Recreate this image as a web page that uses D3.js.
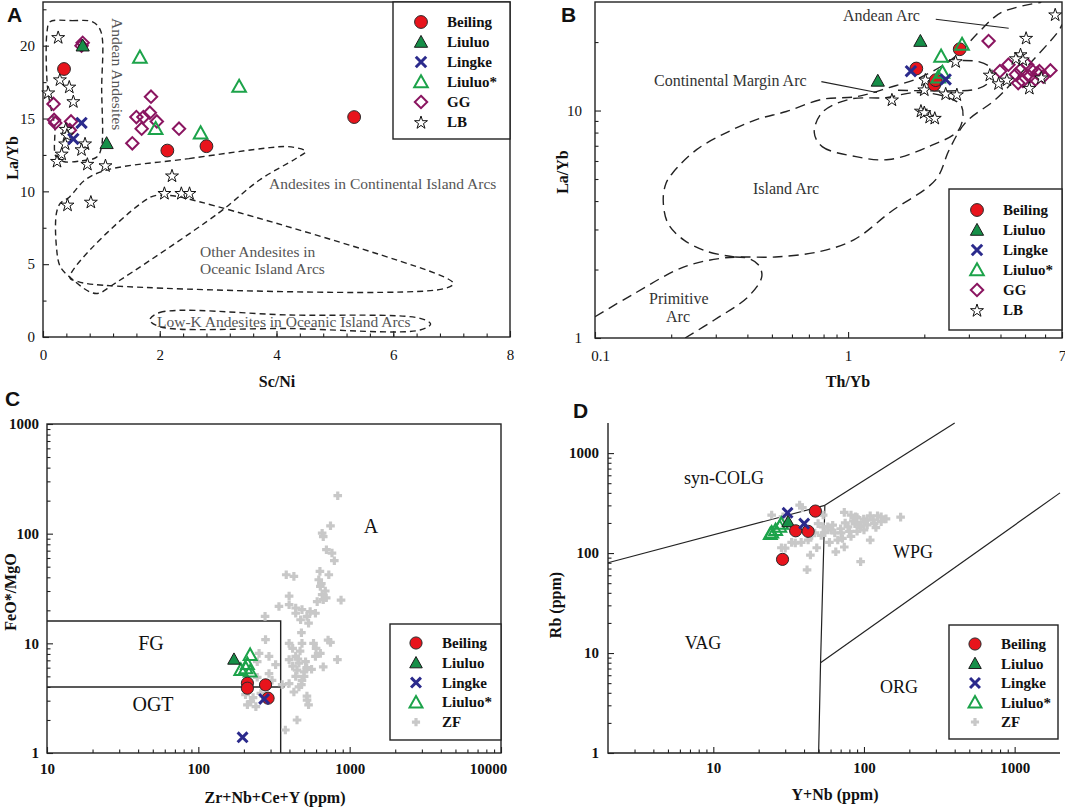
<!DOCTYPE html>
<html><head><meta charset="utf-8">
<script src="https://cdn.jsdelivr.net/npm/d3@7"></script>
<style>
body{margin:0;background:#fff;}
</style></head><body>
<svg id="chart" width="1065" height="808"></svg>
<script>
// ---------------- DATA ----------------
const legendAB = ["Beiling","Liuluo","Lingke","Liuluo*","GG","LB"];
const legendCD = ["Beiling","Liuluo","Lingke","Liuluo*","ZF"];

// Panel A : Sc/Ni vs La/Yb
const aXTicks = [0,2,4,6,8];
const aYTicks = [0,5,10,15,20];
const aBeiling = [[0.36,18.4],[2.13,12.8],[2.80,13.1],[5.33,15.1]];
const aLiuluo  = [[0.68,20.0],[1.09,13.3]];
const aLingke  = [[0.66,14.7],[0.52,13.6]];
const aLiuluoS = [[1.66,19.2],[3.36,17.2],[1.93,14.3],[2.70,14.0]];
const aGG = [[0.68,20.2],[0.66,20.0],[0.18,16.0],[0.19,14.9],[0.21,14.7],[0.48,14.8],[0.46,14.2],[1.60,15.1],[1.69,14.3],[1.72,15.1],[1.85,16.5],[1.83,15.4],[1.95,14.8],[1.53,13.3],[2.33,14.3]];
const aLB = [[0.26,20.6],[0.09,16.8],[0.29,17.7],[0.45,17.2],[0.52,16.2],[0.39,14.3],[0.41,13.9],[0.38,13.3],[0.72,13.3],[0.66,12.9],[0.32,12.6],[0.24,12.1],[0.76,11.9],[1.07,11.8],[2.21,11.1],[2.08,9.9],[2.37,9.9],[2.51,9.9],[0.42,9.1],[0.82,9.3]];
const aFieldAndean = [[0.12,21.64],[0.5,21.72],[0.85,21.64],[0.99,21.0],[1.005,17.0],[1.0,13.0],[0.92,12.35],[0.63,12.08],[0.35,12.05],[0.22,12.4],[0.2,14.5],[0.12,16.0],[0.07,17.5],[0.07,21.0]];
const aFieldContinental = [[1.09,11.46],[2.5,12.25],[3.89,13.0],[4.2,13.07],[4.5,12.75],[4.35,12.3],[3.71,10.78],[3.0,8.49],[1.19,3.57],[0.95,3.0],[0.8,3.1],[0.52,3.91],[0.3,4.8],[0.23,6.2],[0.23,8.5],[0.3,9.2],[0.45,9.6],[0.72,10.78]];
const aFieldOceanic = [[0.46,4.1],[1.84,9.6],[2.1,9.72],[2.36,9.6],[6.92,4.03],[7.03,3.65],[6.81,3.27],[1.25,3.5],[0.6,3.8]];
const aFieldLowK = [[1.83,1.17],[2.0,1.68],[4.23,1.51],[6.46,1.28],[6.64,0.89],[6.46,0.48],[4.23,0.58],[2.0,0.71]];

// Panel B : Th/Yb vs La/Yb
const bXTicks = [0.1,1,7];
const bXLabels = ["0.1","1","7"];
const bYTicks = [1,10];
const bBeiling = [[1.86,15.3],[2.76,18.6],[2.19,13.0],[2.22,13.6]];
const bLiuluo  = [[1.93,20.2],[1.31,13.5]];
const bLingke  = [[1.77,14.9],[2.43,13.7]];
const bLiuluoS = [[2.82,19.5],[2.33,17.3],[2.36,14.7],[2.27,14.0]];
const bGG = [[3.59,20.2],[3.98,14.9],[4.3,15.9],[4.6,14.4],[4.7,13.2],[4.8,15.1],[5.1,15.9],[5.2,14.1],[5.3,15.1],[5.5,13.7],[5.7,14.9],[5.9,14.1],[6.3,15.0],[4.9,13.5],[5.6,14.6]];
const bLB = [[6.58,26.5],[5.05,20.9],[4.8,17.7],[4.9,16.8],[4.6,17.0],[3.63,14.4],[3.93,13.2],[4.24,13.7],[2.66,16.5],[2.02,13.7],[2.0,12.4],[2.43,11.9],[2.69,11.8],[1.49,11.2],[1.94,10.0],[2.0,9.85],[2.1,9.4],[2.2,9.3],[5.2,12.6],[5.8,14.0]];
const bCurveOuter = [[0.1,1.24],[0.1405,1.55],[0.2236,2.05],[0.314,2.24],[0.378,2.27],[0.516,2.27],[0.772,2.40],[1.053,2.70],[1.48,3.60],[2.22,4.97],[2.51,6.73],[2.91,8.85],[3.83,11.2],[4.84,14.7],[6.77,22.3],[7.0,23.9]];
const bCurveUpper = [[0.356,2.27],[0.278,2.40],[0.224,2.70],[0.194,3.2],[0.186,4.05],[0.191,4.8],[0.203,5.33],[0.252,6.73],[0.331,8.0],[0.434,9.12],[0.570,9.9],[0.790,11.2],[1.075,11.5],[1.45,12.6],[1.96,14.1],[2.66,17.3],[3.28,22.1],[4.04,27.0],[5.80,29.9]];
const bCurvePrimitive = [[0.227,1.0],[0.296,1.2],[0.403,1.52],[0.456,1.86],[0.442,2.10],[0.403,2.24],[0.356,2.27]];
const bFieldMargin = [[0.735,8.0],[0.790,6.94],[1.075,6.27],[1.45,6.09],[2.08,6.94],[2.74,8.25],[2.81,10.4],[2.43,11.5],[1.85,12.0],[1.41,11.4],[1.01,11.2],[0.79,9.8]];
const bCurveAndean = [[2.45,16.5],[3.28,16.4],[3.69,15.2],[3.59,13.3],[3.19,12.4],[2.50,12.2],[1.49,12.3]];
const bPointerAndean = [[2.22,25.2],[4.31,23.0]];
const bPointerMargin = [[0.784,13.4],[1.30,12.0]];

// Panel C : Zr+Nb+Ce+Y vs FeO*/MgO
const cXTicks = [10,100,1000,10000];
const cYTicks = [1,10,100,1000];
const cBeiling = [[211,4.33],[211,3.9],[278,4.18],[289,3.16]];
const cLiuluo  = [[172,7.17]];
const cLingke  = [[272,3.11],[196,1.39]];
const cLiuluoS = [[220,7.85],[191,5.73],[206,5.94],[220,5.53],[211,6.5]];
const cZF = [[834,222],[747,118],[658,101],[669,94],[702,71.4],[764,66.6],[792,56.7],[381,42.2],[428,40.8],[636,45.3],[728,42.2],[625,38],[640,33],[690,30],[658,27.8],[669,25],[610,24],[398,27],[877,24.8],[341,21.7],[398,22.5],[440,21],[440,18.8],[484,20.3],[474,16.4],[522,17.6],[548,19.5],[594,18.8],[535,15.3],[276,17.6],[278,10.8],[398,10],[484,10],[577,10],[747,10.2],[293,7.6],[324,6.4],[398,7.1],[440,7.6],[462,6.6],[511,6.8],[594,7.6],[640,8.1],[669,6.1],[830,7.1],[449,5.7],[499,5.5],[440,5.0],[484,4.6],[398,4.3],[462,4.0],[428,3.6],[522,3.3],[535,2.75],[358,4.2],[293,5.3],[307,4.6],[222,2.94],[240,2.65],[211,2.75],[259,3.5],[449,2.0],[376,1.62],[252,8.1],[245,6.8],[230,3.2],[205,3.4],[245,4.9],[720,10.7],[420,9],[470,8.5],[500,5],[520,6],[420,6.2],[455,7.2],[480,12.5],[600,9],[560,5.8],[700,26],[650,35],[480,4.2],[523,3.04]];

// Panel D : Y+Nb vs Rb
const dXTicks = [10,100,1000];
const dYTicks = [1,10,100,1000];
const dBeiling = [[47.6,263],[35.2,167],[42.6,165],[28.8,86.5]];
const dLiuluo  = [[31.4,206]];
const dLingke  = [[31.1,253],[40.1,197]];
const dLiuluoS = [[24.4,161],[25.9,170],[27.6,183],[28.3,197],[23.9,155]];
const dZF = [[37.4,302],[24.4,240],[53.6,240],[49.6,197],[53.6,183],[57.5,183],[60.4,170],[47.1,159],[42.6,135],[33.1,128],[38.3,128],[28.3,113],[48.6,113],[44.1,95.5],[41.9,68],[74,255],[82,240],[90,226],[99.6,219],[110,236],[123,236],[117,197],[105,191],[87,197],[78.4,183],[70.5,159],[67,135],[65,103],[95,183],[90,165],[82,147],[110,135],[95,82],[175,229],[130,206],[74,115],[64,159],[59,128],[30,112],[35,126],[39,285],[100,205],[85,210],[92,190],[105,215],[115,215],[120,180],[75,200],[70,175],[80,165],[62,190],[100,170],[130,230],[140,220],[88,230],[72,140],[45,150],[55,160],[52,150],[29,230],[33,175]];
const dLineVAGCOLG = [[2,80],[55,300]];
const dLineCOLGWPG = [[55,300],[400,2000]];
const dLineVertical = [[55,300],[51.5,8],[50,1]];
const dLineWPGORG = [[51.5,8],[2000,400]];

// ---------------- DRAWING ----------------
const FONT = "'Liberation Serif','Times New Roman',serif";
const svg = d3.select("#chart");
const INK = "#222";

function marker(g, type, x, y, k=1) {
  if (type==="Beiling") {
    g.append("circle").attr("cx",x).attr("cy",y).attr("r",6.4*k)
      .attr("fill","#e8141c").attr("stroke","#2a2a2a").attr("stroke-width",1);
  } else if (type==="Liuluo") {
    const s=6.6*k;
    g.append("path").attr("d",`M${x},${y-s}L${x+s},${y+s*0.8}L${x-s},${y+s*0.8}Z`)
      .attr("fill","#168f48").attr("stroke","#1a1a1a").attr("stroke-width",1);
  } else if (type==="Lingke") {
    const s=5.2*k;
    g.append("path").attr("d",`M${x-s},${y-s}L${x+s},${y+s}M${x+s},${y-s}L${x-s},${y+s}`)
      .attr("stroke","#2b2a8c").attr("stroke-width",3).attr("fill","none");
  } else if (type==="Liuluo*") {
    const s=6.8*k;
    g.append("path").attr("d",`M${x},${y-s}L${x+s},${y+s*0.78}L${x-s},${y+s*0.78}Z`)
      .attr("fill","none").attr("stroke","#1ca34a").attr("stroke-width",2);
  } else if (type==="GG") {
    const s=6.2*k;
    g.append("path").attr("d",`M${x},${y-s}L${x+s},${y}L${x},${y+s}L${x-s},${y}Z`)
      .attr("fill","none").attr("stroke","#8a1560").attr("stroke-width",2);
  } else if (type==="LB") {
    g.append("path").attr("d",d3.symbol(d3.symbolStar, 52*k*k)())
      .attr("transform",`translate(${x},${y+0.8})`)
      .attr("fill","#fff").attr("stroke","#111").attr("stroke-width",1);
  } else if (type==="ZF") {
    const s=4.3*k;
    g.append("path").attr("d",`M${x-s},${y}L${x+s},${y}M${x},${y-s}L${x},${y+s}`)
      .attr("stroke","#c8c8c8").attr("stroke-width",3.2).attr("fill","none");
  }
}

function plotSeries(g, type, data, xs, ys, k) {
  data.forEach(d => marker(g, type, xs(d[0]), ys(d[1]), k));
}

function minorLog(domain) {
  const out=[]; const [a,b]=domain;
  for (let e=Math.floor(Math.log10(a)); e<=Math.ceil(Math.log10(b)); e++)
    for (let d=2; d<=9; d++) { const v=d*Math.pow(10,e); if (v>a*1.0001 && v<b*0.9999) out.push(v); }
  return out;
}

function styleAxis(g, fs, fw) {
  g.select(".domain").remove();
  g.attr("font-family",FONT).attr("font-size",fs).attr("font-weight",fw);
  g.selectAll("line").attr("stroke",INK).attr("stroke-width",1.1);
  g.selectAll("text").attr("fill","#111");
}

function axisPair(xs, ys, xPos, yPos, xMajor, yMajor, xMinor, yMinor, xFmt, yFmt, opt) {
  const gx = svg.append("g").attr("transform",`translate(0,${xPos})`)
    .call(d3.axisBottom(xs).tickValues(xMajor).tickSizeInner(-6).tickSizeOuter(0).tickPadding(opt.xpad).tickFormat(xFmt));
  styleAxis(gx, opt.fs, opt.fw);
  const gxm = svg.append("g").attr("transform",`translate(0,${xPos})`)
    .call(d3.axisBottom(xs).tickValues(xMinor).tickSizeInner(-3.5).tickSizeOuter(0).tickFormat(""));
  styleAxis(gxm, opt.fs, opt.fw);
  const gy = svg.append("g").attr("transform",`translate(${yPos},0)`)
    .call(d3.axisLeft(ys).tickValues(yMajor).tickSizeInner(-6).tickSizeOuter(0).tickPadding(opt.ypad).tickFormat(yFmt));
  styleAxis(gy, opt.fs, opt.fw);
  const gym = svg.append("g").attr("transform",`translate(${yPos},0)`)
    .call(d3.axisLeft(ys).tickValues(yMinor).tickSizeInner(-3.5).tickSizeOuter(0).tickFormat(""));
  styleAxis(gym, opt.fs, opt.fw);
  return {gx, gy};
}

function frame(xs, ys) {
  const [x0,x1]=xs.range(), [y0,y1]=ys.range();
  svg.append("rect").attr("x",x0).attr("y",y1).attr("width",x1-x0).attr("height",y0-y1)
    .attr("fill","none").attr("stroke",INK).attr("stroke-width",1.4);
}

function legend(items, box, symX, textX, y0, step, k) {
  svg.append("rect").attr("x",box[0]).attr("y",box[1]).attr("width",box[2]-box[0]).attr("height",box[3]-box[1])
    .attr("fill","#fff").attr("stroke",INK).attr("stroke-width",1.4);
  items.forEach((name,i)=>{
    const y=y0+i*step;
    marker(svg, name, symX, y, k);
    svg.append("text").attr("x",textX).attr("y",y+5).text(name)
      .attr("font-family",FONT).attr("font-weight","bold").attr("font-size",15).attr("fill","#111");
  });
}

function label(txt, x, y, opt={}) {
  const t = svg.append("text").attr("x",x).attr("y",y).text(txt)
    .attr("font-family",opt.family||FONT).attr("font-size",opt.fs||15)
    .attr("font-weight",opt.fw||"normal").attr("fill",opt.fill||"#444")
    .attr("text-anchor",opt.anchor||"start");
  if (opt.rotate!=null) t.attr("transform",`rotate(${opt.rotate},${x},${y})`);
  return t;
}

function panelLetter(txt,x,y){
  label(txt,x,y,{family:"'Liberation Sans',Arial,sans-serif",fs:21,fw:"bold",fill:"#111"});
}

// ===== Panel A =====
const xA = d3.scaleLinear().domain([0,8]).range([43,510]);
const yA = d3.scaleLinear().domain([0,23]).range([337,2]);
axisPair(xA,yA,337,43,aXTicks,aYTicks,d3.range(0.4,8,0.4),[2.5,7.5,12.5,17.5,22.5],d3.format("d"),d3.format("d"),
  {xpad:12,ypad:8,fs:15,fw:"normal"});
frame(xA,yA);
const lineA = d3.line().x(d=>xA(d[0])).y(d=>yA(d[1])).curve(d3.curveCatmullRomClosed.alpha(0.5));
[aFieldAndean,aFieldContinental,aFieldOceanic,aFieldLowK].forEach(f=>{
  svg.append("path").attr("d",lineA(f)).attr("fill","none").attr("stroke",INK)
    .attr("stroke-width",1.4).attr("stroke-dasharray","6,4");
});
label("Andean Andesites",112,18,{rotate:90,fs:15.5,fill:"#555"});
label("Andesites in  Continental Island Arcs",269,189,{fs:15.5,fill:"#555"});
label("Other Andesites in",200,257,{fs:15.5,fill:"#555"});
label("Oceanic Island Arcs",200,274,{fs:15.5,fill:"#555"});
label("Low-K Andesites in Oceanic Island Arcs",157,327,{fs:15.5,fill:"#555"});
const gA = svg.append("g");
plotSeries(gA,"GG",aGG,xA,yA);
plotSeries(gA,"LB",aLB,xA,yA);
plotSeries(gA,"Liuluo*",aLiuluoS,xA,yA);
plotSeries(gA,"Beiling",aBeiling,xA,yA);
plotSeries(gA,"Lingke",aLingke,xA,yA);
plotSeries(gA,"Liuluo",aLiuluo,xA,yA);
legend(legendAB,[393,2,510,139],421,447,22,20,1);
label("La/Yb",18,158,{rotate:-90,fs:16,fw:"bold",fill:"#111",anchor:"middle"});
label("Sc/Ni",277,387,{fs:16,fw:"bold",fill:"#111",anchor:"middle"});
panelLetter("A",7,22);

// ===== Panel B =====
const xB = d3.scaleLog().domain([0.1,7]).range([595,1062]);
const yB = d3.scaleLog().domain([1,30]).range([338,2]);
const axB = axisPair(xB,yB,338,595,bXTicks,bYTicks,minorLog([0.1,7]),minorLog([1,30]),(d,i)=>bXLabels[i],d3.format("d"),
  {xpad:12,ypad:13,fs:15,fw:"normal"});
axB.gx.selectAll("text").filter(d=>d===0.1).attr("dx",5);
frame(xB,yB);
const lineBo = d3.line().x(d=>xB(d[0])).y(d=>yB(d[1])).curve(d3.curveCatmullRom.alpha(0.5));
const lineBc = d3.line().x(d=>xB(d[0])).y(d=>yB(d[1])).curve(d3.curveCatmullRomClosed.alpha(0.5));
const lineBs = d3.line().x(d=>xB(d[0])).y(d=>yB(d[1]));
const clipB = svg.append("clipPath").attr("id","clipB").append("rect")
  .attr("x",595).attr("y",2).attr("width",467).attr("height",336);
const gBf = svg.append("g").attr("clip-path","url(#clipB)");
[bCurveOuter,bCurveUpper,bCurvePrimitive,bCurveAndean].forEach(c=>{
  gBf.append("path").attr("d",lineBo(c)).attr("fill","none").attr("stroke",INK)
    .attr("stroke-width",1.4).attr("stroke-dasharray","10,6");
});
gBf.append("path").attr("d",lineBc(bFieldMargin)).attr("fill","none").attr("stroke",INK)
  .attr("stroke-width",1.4).attr("stroke-dasharray","10,6");
[bPointerAndean,bPointerMargin].forEach(p=>{
  gBf.append("path").attr("d",lineBs(p)).attr("fill","none").attr("stroke",INK).attr("stroke-width",1.1);
});
label("Andean Arc",843,21,{fs:16,fill:"#333"});
label("Continental Margin Arc",654,86,{fs:16,fill:"#333"});
label("Island Arc",753,194,{fs:16,fill:"#333"});
label("Primitive",649,304,{fs:16,fill:"#333"});
label("Arc",666,322,{fs:16,fill:"#333"});
const gB = svg.append("g");
plotSeries(gB,"GG",bGG,xB,yB);
plotSeries(gB,"LB",bLB,xB,yB);
plotSeries(gB,"Beiling",bBeiling,xB,yB);
plotSeries(gB,"Liuluo*",bLiuluoS,xB,yB);
plotSeries(gB,"Lingke",bLingke,xB,yB);
plotSeries(gB,"Liuluo",bLiuluo,xB,yB);
legend(legendAB,[949,189,1062,330],977,1003,210,20,1);
label("La/Yb",568,172,{rotate:-90,fs:16,fw:"bold",fill:"#111",anchor:"middle"});
label("Th/Yb",848,387,{fs:16,fw:"bold",fill:"#111",anchor:"middle"});
panelLetter("B",561,22);

// ===== Panel C =====
const xC = d3.scaleLog().domain([10,10000]).range([47,501]);
const yC = d3.scaleLog().domain([1,1000]).range([753,424]);
const axC = axisPair(xC,yC,753,47,cXTicks,cYTicks,minorLog([10,10000]),minorLog([1,1000]),d3.format("d"),d3.format("d"),
  {xpad:10,ypad:8,fs:15,fw:"bold"});
axC.gx.selectAll("text").filter(d=>d===10000).attr("dx",-13);
frame(xC,yC);
const lineCs = d3.line().x(d=>xC(d[0])).y(d=>yC(d[1]));
svg.append("path").attr("d",lineCs([[10,16],[350,16],[350,1]])).attr("fill","none").attr("stroke",INK).attr("stroke-width",1.4);
svg.append("path").attr("d",lineCs([[10,4],[350,4]])).attr("fill","none").attr("stroke",INK).attr("stroke-width",1.4);
svg.append("path").attr("d",lineCs([[350,4],[395,4]])).attr("fill","none").attr("stroke",INK).attr("stroke-width",1.2).attr("stroke-dasharray","4,3");
label("A",371,533,{fs:20,fill:"#111",anchor:"middle"});
label("FG",151,650,{fs:20,fill:"#111",anchor:"middle"});
label("OGT",153,711,{fs:20,fill:"#111",anchor:"middle"});
const gC = svg.append("g");
plotSeries(gC,"ZF",cZF,xC,yC);
plotSeries(gC,"Liuluo*",cLiuluoS,xC,yC,0.95);
plotSeries(gC,"Liuluo",cLiuluo,xC,yC,0.95);
plotSeries(gC,"Beiling",cBeiling,xC,yC,0.95);
plotSeries(gC,"Lingke",cLingke,xC,yC,0.95);
legend(legendCD,[390,624,501,740],416,442,643,19.8,0.95);
label("FeO*/MgO",16,592,{rotate:-90,fs:16,fw:"bold",fill:"#111",anchor:"middle"});
label("Zr+Nb+Ce+Y (ppm)",275,803,{fs:16,fw:"bold",fill:"#111",anchor:"middle"});
panelLetter("C",5,406);

// ===== Panel D =====
const xD = d3.scaleLog().domain([2,2000]).range([608,1060]);
const yD = d3.scaleLog().domain([1,2000]).range([753,423]);
axisPair(xD,yD,753,608,dXTicks,dYTicks,minorLog([2,2000]),minorLog([1,2000]),d3.format("d"),d3.format("d"),
  {xpad:9,ypad:9,fs:15,fw:"bold"});
svg.append("path").attr("d",`M${xD.range()[0]},${yD.range()[1]}V${yD.range()[0]}H${xD.range()[1]}`)
  .attr("fill","none").attr("stroke",INK).attr("stroke-width",1.4);
const lineDs = d3.line().x(d=>xD(d[0])).y(d=>yD(d[1]));
[dLineVAGCOLG,dLineCOLGWPG,dLineVertical,dLineWPGORG].forEach(l=>{
  svg.append("path").attr("d",lineDs(l)).attr("fill","none").attr("stroke",INK).attr("stroke-width",1.2);
});
label("syn-COLG",724,484,{fs:18,fill:"#111",anchor:"middle"});
label("VAG",703,649,{fs:18,fill:"#111",anchor:"middle"});
label("WPG",913,558,{fs:18,fill:"#111",anchor:"middle"});
label("ORG",899,693,{fs:18,fill:"#111",anchor:"middle"});
const gD = svg.append("g");
plotSeries(gD,"ZF",dZF,xD,yD);
plotSeries(gD,"Liuluo*",dLiuluoS,xD,yD,0.95);
plotSeries(gD,"Liuluo",dLiuluo,xD,yD,0.95);
plotSeries(gD,"Beiling",dBeiling,xD,yD,0.95);
plotSeries(gD,"Lingke",dLingke,xD,yD,0.95);
legend(legendCD,[949,625,1058,739],975,1001,644,19.5,0.95);
label("Rb (ppm)",561,605,{rotate:-90,fs:16,fw:"bold",fill:"#111",anchor:"middle"});
label("Y+Nb (ppm)",835,800,{fs:16,fw:"bold",fill:"#111",anchor:"middle"});
panelLetter("D",573,418);
</script>
</body></html>
